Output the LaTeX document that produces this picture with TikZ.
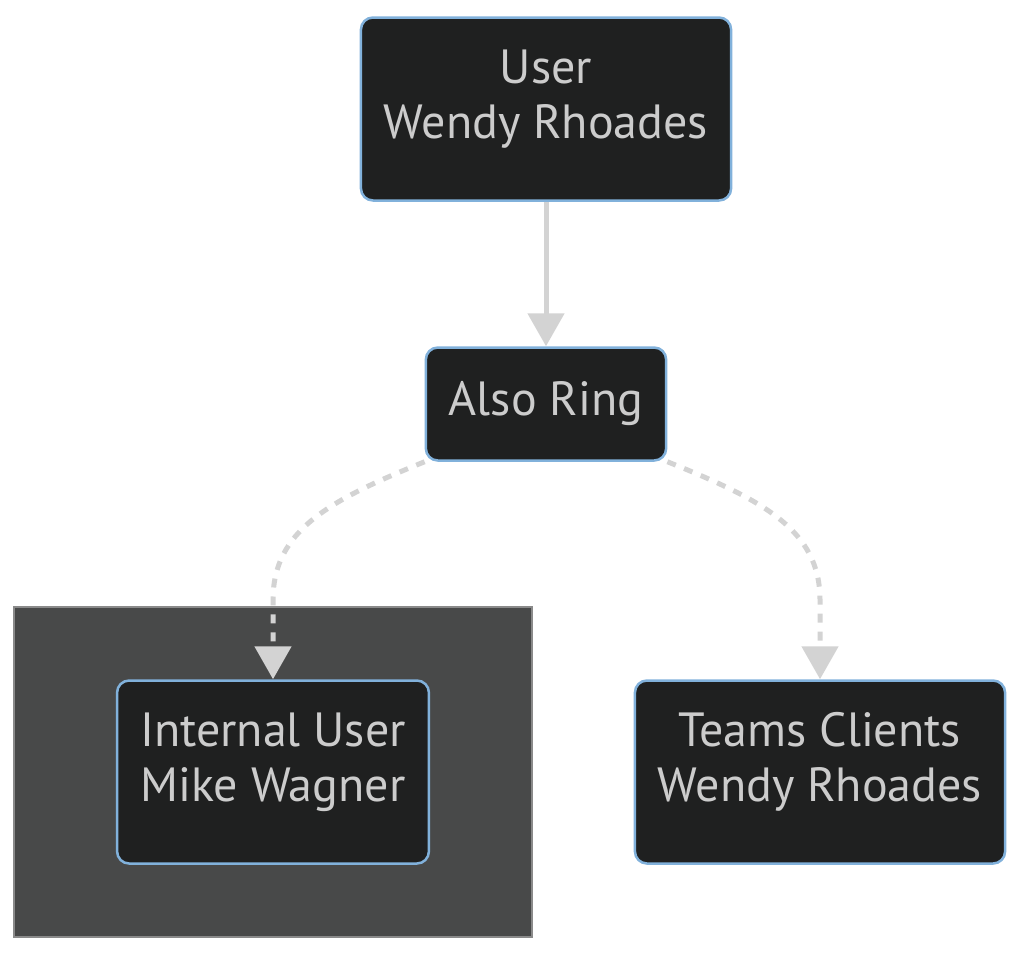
\documentclass[tikz,border=0pt]{standalone}
\usepackage{fontspec}
\setmainfont{PT Sans}
\usetikzlibrary{arrows.meta}
\definecolor{nodefill}{HTML}{1F2020}
\definecolor{nodeline}{HTML}{81B1DB}
\definecolor{nodetext}{HTML}{CCCCCC}
\definecolor{edgegray}{HTML}{D3D3D3}
\definecolor{clusterfill}{HTML}{484949}
\definecolor{clusterline}{HTML}{8A8A8A}
\tikzset{
  box/.style={draw=nodeline, fill=nodefill, text=nodetext, line width=2.5pt,
    rounded corners=12pt, align=center, inner xsep=23pt, inner ysep=0pt,
    minimum height=183pt, text depth=30pt, font=\fontsize{48}{55}\selectfont},
  link/.style={draw=edgegray, line width=5pt, -{Triangle[width=36pt,length=33pt]}},
  dashlink/.style={link, dash pattern=on 9pt off 9pt}
}
\begin{document}
\begin{tikzpicture}[x=1pt,y=-1pt]
                \useasboundingbox (0,0) rectangle (1024,956);
                \filldraw[fill=clusterfill,draw=clusterline,line width=2pt] (14,607) rectangle (532,937);
                \node[box] (user) at (546,109) {User\\Wendy Rhoades};
                \node[box,minimum height=113pt,text depth=] (ring) at (546,404) {Also Ring};
                \node[box] (internal) at (273,772) {Internal User\\Mike Wagner};
                \node[box] (teams) at (820,772) {Teams Clients\\Wendy Rhoades};
                \draw[link] (user) -- (ring);
                \draw[dashlink] (ring.south west) .. controls (330,500) and (273,530) .. (273,600) -- (internal.north);
                \draw[dashlink] (ring.south east) .. controls (763,500) and (820,530) .. (820,600) -- (teams.north);
            \end{tikzpicture}
\end{document}
